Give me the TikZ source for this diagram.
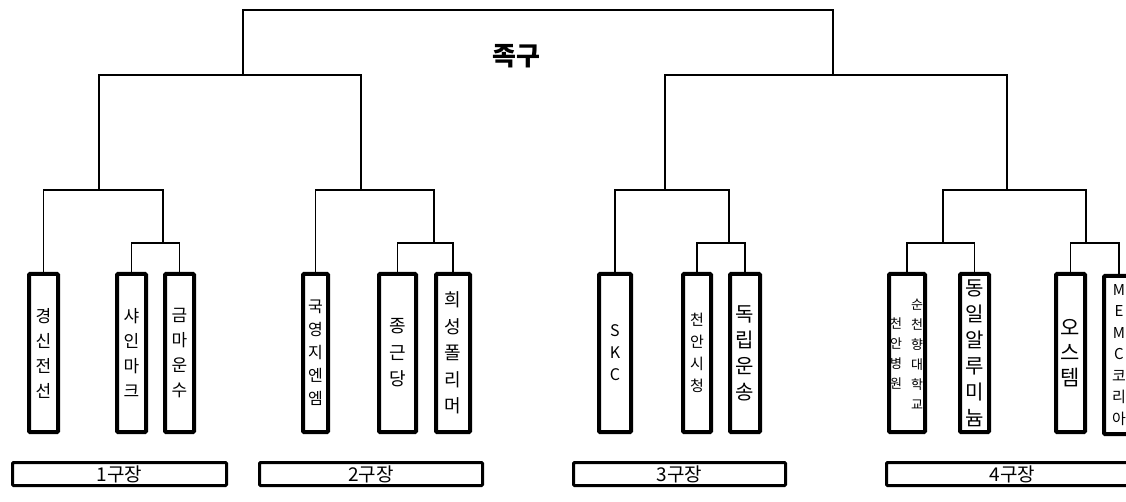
\documentclass[tikz,border=0pt]{standalone}
\usepackage{fontspec}
\setmainfont{Noto Sans CJK KR}
\usepackage{tikz}
\usetikzlibrary{positioning}

\begin{document}
\begin{tikzpicture}[x=1pt,y=-1pt,
    team/.style={draw,line width=4pt,rounded corners=1pt,inner sep=0pt,minimum height=158pt,align=center},
    field/.style={draw,line width=3pt,rounded corners=1pt,inner sep=0pt,minimum height=23pt,font=\fontsize{19}{19}\selectfont},
    link/.style={line width=1.2pt}]
    \useasboundingbox (0,0) rectangle (1126,502);
    \clip (0,0) rectangle (1126,502);

    \node [font=\fontsize{26}{26}\selectfont\bfseries] (title) at (516,56) {족구};

    % teams
    \node [team,minimum width=29pt,font=\fontsize{17}{25}\selectfont] (gs) at (43.5,353) {경\\신\\전\\선};
    \node [team,minimum width=29pt,font=\fontsize{17}{25}\selectfont] (sh) at (131.5,353) {샤\\인\\마\\크};
    \node [team,minimum width=29pt,font=\fontsize{17}{25}\selectfont] (gm) at (179.5,353) {금\\마\\운\\수};
    \node [team,minimum width=25pt,font=\fontsize{16}{23}\selectfont] (ky) at (315.5,353) {국\\영\\지\\엔\\엠};
    \node [team,minimum width=37pt,font=\fontsize{18}{26.5}\selectfont] (jk) at (397.5,353) {종\\근\\당};
    \node [team,minimum width=34pt,font=\fontsize{18}{26.5}\selectfont] (hs) at (453,353) {희\\성\\폴\\리\\머};
    \node [team,minimum width=32pt,font=\fontsize{16}{22}\selectfont] (skc) at (615,353) {S\\K\\C};
    \node [team,minimum width=28pt,font=\fontsize{15}{22}\selectfont] (ca) at (697,353) {천\\안\\시\\청};
    \node [team,minimum width=30pt,font=\fontsize{20}{26}\selectfont] (dr) at (745,353) {독\\립\\운\\송};
    \node [team,minimum width=36pt] (sc) at (907,353) {};
    \node [font=\fontsize{13}{20}\selectfont,align=center,inner sep=0pt] (sca) at (896,354) {천\\안\\병\\원};
    \node [font=\fontsize{13}{20}\selectfont,align=center,inner sep=0pt] (scb) at (917,354) {순\\천\\향\\대\\학\\교};
    \node [team,minimum width=29pt,font=\fontsize{20}{26}\selectfont] (di) at (974.5,353) {동\\일\\알\\루\\미\\늄};
    \node [team,minimum width=29pt,font=\fontsize{21}{25}\selectfont] (os) at (1070.5,353) {오\\스\\템};
    \node [team,minimum width=30pt,font=\fontsize{15}{21.5}\selectfont] (memc) at (1119,355) {M\\E\\M\\C\\코\\리\\아};

    % fields
    \node [field,minimum width=214pt] (f1) at (119.5,474) {1구장};
    \node [field,minimum width=223pt] (f2) at (371,474) {2구장};
    \node [field,minimum width=212pt] (f3) at (679.5,474) {3구장};
    \node [field,minimum width=252pt] (f4) at (1012.5,474) {4구장};

    % junctions
    \coordinate (s1) at (163,243);
    \coordinate (s2) at (434,243);
    \coordinate (s3) at (729,243);
    \coordinate (s4) at (943,243);
    \coordinate (s5) at (1086,243);
    \coordinate (g1) at (99,190);
    \coordinate (g2) at (361,190);
    \coordinate (g3) at (665,190);
    \coordinate (g4) at (1007,190);
    \coordinate (h1) at (243,75);
    \coordinate (h2) at (833,75);
    \coordinate (root) at (538,10);

    \draw [link] (sh.north) |- (s1) -| (gm.north);
    \draw [link] (jk.north) |- (s2) -| (hs.north);
    \draw [link] (ca.north) |- (s3) -| (dr.north);
    \draw [link] (sc.north) |- (s4) -| (di.north);
    \draw [link] (os.north) |- (s5) -| (memc.north);
    \draw [link] (gs.north) |- (g1) -| (s1);
    \draw [link] (ky.north) |- (g2) -| (s2);
    \draw [link] (skc.north) |- (g3) -| (s3);
    \draw [link] (s4) |- (g4) -| (s5);
    \draw [link] (g1) |- (h1) -| (g2);
    \draw [link] (g3) |- (h2) -| (g4);
    \draw [link] (h1) |- (root) -| (h2);
\end{tikzpicture}
\end{document}
